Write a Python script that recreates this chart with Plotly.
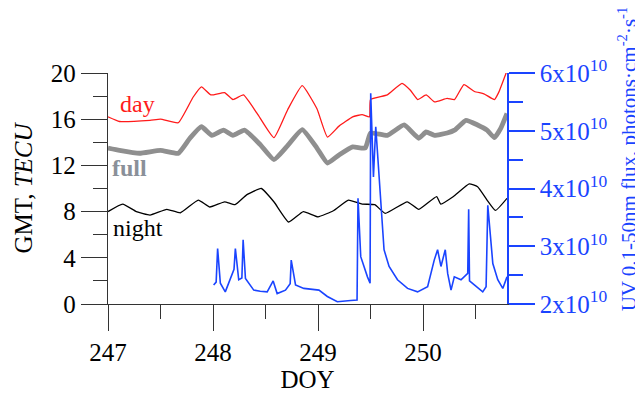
import plotly.graph_objects as go

# ---- data ----
day_doy = [247.0, 247.11, 247.4, 247.5, 247.67, 247.81, 247.89, 247.98, 248.11, 248.19,
           248.29, 248.42, 248.58, 248.71, 248.85, 248.99, 249.09, 249.2, 249.33, 249.42,
           249.49, 249.50, 249.66, 249.8, 249.88, 249.95, 250.03, 250.11, 250.23, 250.3,
           250.39, 250.49, 250.58, 250.68, 250.72, 250.8]
day_tec = [16.2, 15.8, 15.9, 16.0, 15.7, 17.9, 18.8, 18.1, 18.3, 17.7,
           18.1, 16.5, 14.4, 16.8, 18.9, 16.9, 14.45, 15.4, 16.2, 16.4,
           16.2, 17.7, 18.1, 19.1, 18.5, 17.7, 18.1, 17.5, 17.8, 17.7,
           19.0, 18.4, 18.2, 17.7, 18.3, 20.2]

full_doy = [247.0, 247.11, 247.3, 247.5, 247.67, 247.78, 247.89, 247.99, 248.1, 248.19,
            248.3, 248.45, 248.58, 248.7, 248.85, 248.99, 249.09, 249.2, 249.33, 249.45,
            249.5, 249.66, 249.82, 249.96, 250.03, 250.11, 250.23, 250.3, 250.41, 250.52,
            250.61, 250.68, 250.74, 250.8]
full_tec = [13.5, 13.3, 13.05, 13.3, 13.05, 14.35, 15.35, 14.6, 15.05, 14.6,
            15.05, 13.8, 12.5, 13.6, 15.1, 13.5, 12.2, 12.9, 13.6, 13.5,
            14.8, 14.6, 15.5, 14.35, 14.9, 14.6, 14.8, 15.05, 15.9, 15.5,
            15.05, 14.4, 15.2, 16.5]

night_doy = [247.0, 247.14, 247.27, 247.4, 247.56, 247.69, 247.86, 247.97, 248.11, 248.21,
             248.32, 248.46, 248.58, 248.72, 248.86, 249.0, 249.15, 249.29, 249.42, 249.54,
             249.64, 249.85, 249.96, 250.13, 250.17, 250.29, 250.44, 250.52, 250.61, 250.69,
             250.8]
night_tec = [8.0, 8.65, 8.0, 7.7, 8.2, 7.9, 9.0, 8.4, 8.85, 8.6,
             9.45, 10.0, 8.85, 7.1, 8.0, 7.55, 8.1, 9.0, 8.65, 8.6,
             7.85, 8.85, 8.2, 9.3, 8.65, 9.3, 10.4, 10.15, 9.0, 8.1,
             9.15]

uv_doy = [248.006, 248.03, 248.044, 248.07, 248.117, 248.165, 248.2, 248.213, 248.245, 248.275,
          248.287, 248.309, 248.388, 248.45, 248.516, 248.573, 248.611, 248.69, 248.735, 248.745,
          248.786, 248.865, 248.95, 249.009, 249.089, 249.184, 249.311, 249.372, 249.381, 249.407,
          249.471, 249.496, 249.502, 249.528, 249.55, 249.614, 249.629, 249.677, 249.757, 249.853,
          249.948, 250.044, 250.107, 250.139, 250.171, 250.212, 250.235, 250.267, 250.298, 250.362,
          250.426, 250.435, 250.443, 250.489, 250.569, 250.601, 250.617, 250.665, 250.712, 250.76,
          250.8]
uv_flux = [2.33e10, 2.38e10, 2.96e10, 2.36e10, 2.21e10, 2.42e10, 2.6e10, 2.96e10, 2.42e10, 2.45e10,
           3.11e10, 2.44e10, 2.24e10, 2.22e10, 2.21e10, 2.40e10, 2.18e10, 2.24e10, 2.35e10, 2.76e10,
           2.33e10, 2.27e10, 2.26e10, 2.24e10, 2.13e10, 2.04e10, 2.06e10, 2.07e10, 3.83e10, 2.82e10,
           2.47e10, 2.36e10, 5.65e10, 4.2e10, 5.07e10, 3.45e10, 2.94e10, 2.65e10, 2.42e10, 2.27e10,
           2.21e10, 2.30e10, 2.76e10, 2.94e10, 2.65e10, 2.94e10, 2.53e10, 2.24e10, 2.47e10, 2.42e10,
           2.53e10, 3.64e10, 2.40e10, 2.33e10, 2.21e10, 2.30e10, 3.71e10, 2.70e10, 2.42e10, 2.27e10,
           2.47e10]

x_ticks = [247, 248, 249, 250]
left_ticks = [0, 4, 8, 12, 16, 20]
right_tickvals = [2e10, 3e10, 4e10, 5e10, 6e10]
right_ticktext = ["2x10<sup>10</sup>", "3x10<sup>10</sup>", "4x10<sup>10</sup>",
                  "5x10<sup>10</sup>", "6x10<sup>10</sup>"]
right_minor = [2.5e10, 3.5e10, 4.5e10, 5.5e10]
right_title = "UV 0.1-50nm flux, photons·cm<sup>-2</sup>·s<sup>-1</sup>"

# ---- figure ----
FONT = "Liberation Serif"
RED = "#ff1a1a"
GRAY = "#8f8f8f"
BLUE = "#1a44ff"
AX = "#333333"

fig = go.Figure()
fig.add_trace(go.Scatter(x=full_doy, y=full_tec, mode="lines",
                         line=dict(color=GRAY, width=4.8, shape="spline", smoothing=0.4),
                         showlegend=False))
fig.add_trace(go.Scatter(x=day_doy, y=day_tec, mode="lines",
                         line=dict(color=RED, width=1.3, shape="spline", smoothing=0.4),
                         showlegend=False))
fig.add_trace(go.Scatter(x=night_doy, y=night_tec, mode="lines",
                         line=dict(color="black", width=1.3, shape="spline", smoothing=0.4),
                         showlegend=False))
fig.add_trace(go.Scatter(x=uv_doy, y=uv_flux, mode="lines", yaxis="y2",
                         line=dict(color=BLUE, width=1.6), showlegend=False))

fig.add_annotation(x=247.28, y=17.3, text="day", showarrow=False,
                   font=dict(family=FONT, size=24, color=RED))
fig.add_annotation(x=247.2, y=11.8, text="<b>full</b>", showarrow=False,
                   font=dict(family=FONT, size=24, color="#8a9099"))
fig.add_annotation(x=247.29, y=6.6, text="night", showarrow=False,
                   font=dict(family=FONT, size=24, color="black"))
# right axis title (rotated, reads bottom-to-top)
fig.add_annotation(xref="paper", yref="paper", x=1.303, y=0.63, text=right_title,
                   textangle=-90, showarrow=False, xanchor="center", yanchor="middle",
                   font=dict(family=FONT, size=21, color=BLUE))

fig.update_layout(
    width=635, height=387,
    margin=dict(l=100, r=136, t=65, b=91),
    paper_bgcolor="white", plot_bgcolor="white",
    font=dict(family=FONT, size=25, color="black"),
    xaxis=dict(range=[247, 250.8], tickmode="array", tickvals=x_ticks,
               automargin=False,
               showline=True, linecolor=AX, linewidth=1.3,
               ticks="outside", ticklen=26, tickwidth=1.3, tickcolor=AX,
               minor=dict(dtick=0.5, tick0=247, ticks="outside", ticklen=14,
                          tickwidth=1.3, tickcolor=AX),
               showgrid=False, zeroline=False,
               tickfont=dict(family=FONT, size=25, color="black"),
               title=dict(text="DOY", font=dict(family=FONT, size=25, color="black"),
                          standoff=0)),
    yaxis=dict(range=[0, 20], tickmode="array", tickvals=left_ticks,
               automargin=False,
               showline=True, linecolor=AX, linewidth=1.3,
               ticks="outside", ticklen=26, tickwidth=1.3, tickcolor=AX,
               minor=dict(dtick=2, tick0=0, ticks="outside", ticklen=14,
                          tickwidth=1.3, tickcolor=AX),
               showgrid=False, zeroline=False,
               tickfont=dict(family=FONT, size=25, color="black"),
               title=dict(text="GMT, <i>TECU</i>",
                          font=dict(family=FONT, size=25, color="black"),
                          standoff=11)),
    yaxis2=dict(range=[2e10, 6e10], overlaying="y", side="right",
                automargin=False,
                tickmode="array", tickvals=right_tickvals, ticktext=right_ticktext,
                showline=True, linecolor=BLUE, linewidth=1.5,
                ticks="outside", ticklen=26, tickwidth=1.5, tickcolor=BLUE,
                minor=dict(tickvals=right_minor, ticks="outside", ticklen=14,
                           tickwidth=1.5, tickcolor=BLUE),
                showgrid=False, zeroline=False,
                tickfont=dict(family=FONT, size=25, color=BLUE)),
)

fig.write_html("out.html")
